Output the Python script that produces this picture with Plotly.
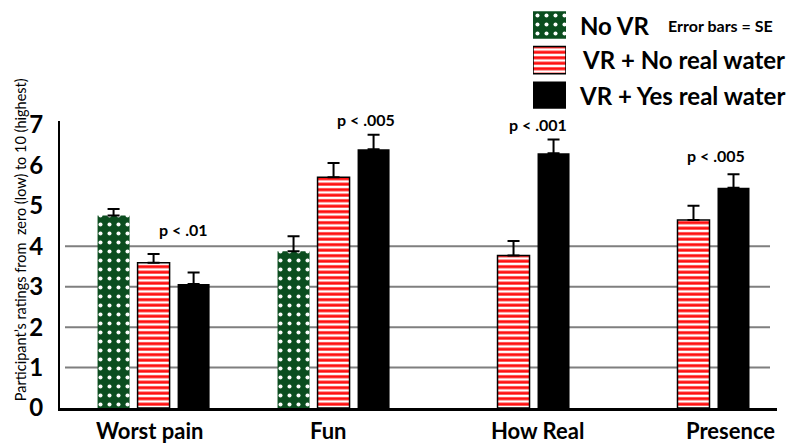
import plotly.graph_objects as go

# ---------------- data ----------------
categories = ["Worst pain", "Fun", "How Real", "Presence"]
series_names = ["No VR", "VR + No real water", "VR + Yes real water"]
no_vr = [4.76, 3.88, None, None]
no_vr_se = [0.16, 0.37, 0, 0]
vr_no_water = [3.59, 5.71, 3.77, 4.65]
vr_no_water_se = [0.22, 0.35, 0.36, 0.35]
vr_yes_water = [3.07, 6.40, 6.30, 5.45]
vr_yes_water_se = [0.28, 0.36, 0.34, 0.33]
p_labels = ["p < .01", "p < .005", "p < .001", "p < .005"]
p_label_y = [4.41, 7.13, 7.01, 6.24]
y_ticks = [0, 1, 2, 3, 4, 5, 6, 7]
grid_values = [1, 2, 3, 4]

# ---------------- styles ----------------
GREEN = "#0b4d1f"
RED = "#ff1010"
FONT = "Lato"

W, H = 796, 444
ML, MR, MB, MT = 60, 19, 36, 0
PW = W - ML - MR
PH = H - MB - MT
Y_TOP = 7.1
PX_PER_UNIT = 295 / Y_TOP


def px_x(px):
    return (px - ML) / PW


def px_y(py):
    return (PH - py) / PH


err_style = dict(type="data", symmetric=False, color="black", thickness=2, width=6)

green_marker = dict(color=GREEN, line=dict(width=0),
                    pattern=dict(shape=".", fgcolor="white", bgcolor=GREEN, size=9, solidity=0.16, fillmode="replace"))
red_marker = dict(color="white", line=dict(width=1.5, color="black"),
                  pattern=dict(shape="-", fgcolor=RED, bgcolor="white", size=5.5, solidity=0.55, fillmode="replace"))
black_marker = dict(color="black", line=dict(width=0))
markers = [green_marker, red_marker, black_marker]

fig = go.Figure()
for name, vals, se, mk in zip(series_names, [no_vr, vr_no_water, vr_yes_water],
                              [no_vr_se, vr_no_water_se, vr_yes_water_se], markers):
    fig.add_trace(go.Bar(
        name=name, x=categories, y=vals, marker=mk,
        error_y=dict(array=se, arrayminus=[0] * len(se), **err_style),
    ))

# legend swatches (own small axes so the patterns show at full size)
for name, mk in zip(series_names, markers):
    fig.add_trace(go.Bar(
        x=[1], y=[name], orientation="h", width=0.78, offset=-0.39,
        xaxis="x2", yaxis="y2", showlegend=False, hoverinfo="skip", marker=mk,
    ))

shapes = []
for g in grid_values:
    shapes.append(dict(type="line", xref="paper", yref="y", x0=px_x(65), x1=px_x(770), y0=g, y1=g,
                       line=dict(color="#7f7f7f", width=2), layer="below"))

annotations = []
# p-value labels
p_shift = [29.5, 32, 24.5, 23]
for cat, txt, yy, sh in zip(categories, p_labels, p_label_y, p_shift):
    y_in = min(yy, 7.0)
    annotations.append(dict(x=cat, y=y_in, xref="x", yref="y", text=txt, showarrow=False, xshift=sh,
                            yshift=(yy - y_in) * PX_PER_UNIT,
                            font=dict(family=FONT, size=16, color="black", weight="bold")))
# category labels
cat_shift = [-4, -5, 24, 37]
for cat, sh in zip(categories, cat_shift):
    annotations.append(dict(x=cat, y=px_y(431), xref="x", yref="paper", text=cat, showarrow=False, xshift=sh,
                            yanchor="middle", font=dict(family=FONT, size=22, color="black", weight="bold")))
# y title
annotations.append(dict(x=px_x(10), y=px_y(235), xref="paper", yref="paper", textangle=-90, showarrow=False,
                        text="Participant\u2019s ratings from  zero (low) to 10 (highest)",
                        font=dict(family=FONT, size=14.5, color="black")))
# legend texts
leg_text_x = [578, 580, 577]
leg_text_y = [15, 50, 87]
for name, lx, ly in zip(series_names, leg_text_x, leg_text_y):
    annotations.append(dict(x=px_x(lx), y=px_y(ly), xref="paper", yref="paper", text=name, showarrow=False,
                            xanchor="left", yanchor="middle",
                            font=dict(family=FONT, size=24, color="black", weight="bold")))
annotations.append(dict(x=px_x(720), y=px_y(15), xref="paper", yref="paper", text="Error bars = SE",
                        showarrow=False, xanchor="center", yanchor="middle",
                        font=dict(family=FONT, size=16, color="black", weight="bold")))

fig.update_layout(
    width=W, height=H,
    margin=dict(l=ML, r=MR, t=MT, b=MB, pad=0),
    paper_bgcolor="white", plot_bgcolor="white",
    barmode="group", bargap=0.333, bargroupgap=0.2,
    showlegend=False,
    shapes=shapes, annotations=annotations,
    xaxis=dict(type="category", range=[-0.52, 3.464], showticklabels=False, ticks="",
               showgrid=False, zeroline=False, showline=True, linecolor="black", linewidth=3,
               domain=[0, 1], anchor="y"),
    yaxis=dict(range=[0, Y_TOP], domain=[0, 295 / PH], tickvals=y_ticks, showgrid=False, zeroline=False,
               showline=True, linecolor="black", linewidth=2, ticks="", ticklabelstandoff=10,
               tickfont=dict(family=FONT, size=24, color="black", weight="bold"), anchor="x"),
    xaxis2=dict(domain=[px_x(533), px_x(566)], range=[0, 1], visible=False, anchor="y2"),
    yaxis2=dict(domain=[px_y(108), 1], range=[-0.6, 2.4], type="category",
                categoryorder="array", categoryarray=series_names[::-1], visible=False, anchor="x2"),
)

fig.write_html("out.html", config={"displayModeBar": False},
               post_script="document.body.style.margin='0';document.body.style.padding='0';")
